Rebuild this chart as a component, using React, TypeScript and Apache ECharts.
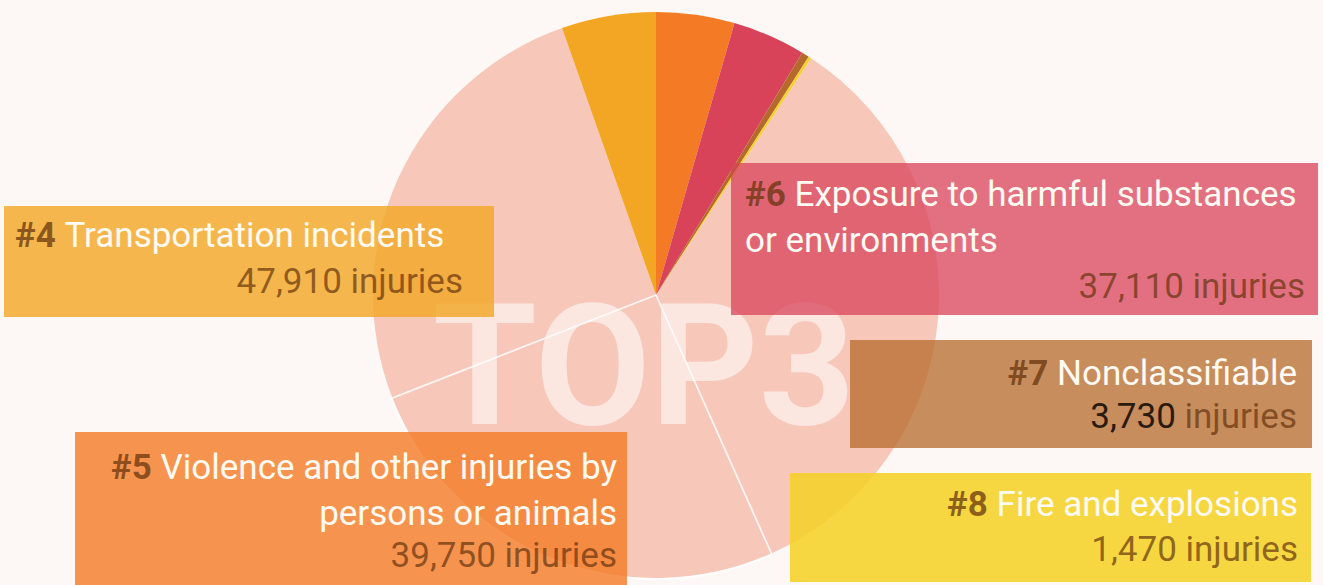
import React, { useEffect, useRef } from "react";
import * as echarts from "echarts";

// ---- data ----
const ranks = [1, 2, 3, 4, 5, 6, 7, 8];
const categories = [
  "Overexertion and bodily reaction",
  "Falls, slips, trips",
  "Contact with objects and equipment",
  "Transportation incidents",
  "Violence and other injuries by\npersons or animals",
  "Exposure to harmful substances\nor environments",
  "Nonclassifiable",
  "Fire and explosions",
];
const injuries = [303000, 229000, 227000, 47910, 39750, 37110, 3730, 1470];
const topLabel = "TOP3";
const unitLabel = "injuries";
const labelledRanks = [4, 5, 6, 7, 8];

// ---- style ----
const BG = "#fdf8f5";
const sliceColors = ["#f7c7ba", "#f7c7ba", "#f7c7ba", "#f2a623", "#f47a25", "#d8435a", "#b5692a", "#f4d02f"];
const boxColors: Record<number, string> = {
  4: "rgba(242,166,35,0.8)",
  5: "rgba(244,122,37,0.8)",
  6: "rgba(216,67,90,0.75)",
  7: "rgba(181,105,42,0.75)",
  8: "rgba(245,210,40,0.88)",
};
type Layout = {
  box: [number, number, number, number];
  titleX: number;
  titleAlign: "left" | "right";
  titleY: number;
  numX: number;
  numY: number;
  numColor?: string;
};
const layouts: Record<number, Layout> = {
  4: { box: [4, 206, 490, 111], titleX: 15, titleAlign: "left", titleY: 235, numX: 463, numY: 281 },
  5: { box: [75, 432, 552, 160], titleX: 617, titleAlign: "right", titleY: 467, numX: 617, numY: 555 },
  6: { box: [731, 163, 587, 152], titleX: 745, titleAlign: "left", titleY: 194, numX: 1305, numY: 286 },
  7: { box: [850, 340, 462, 108], titleX: 1297, titleAlign: "right", titleY: 373, numX: 1297, numY: 416, numColor: "#2b1a0e" },
  8: { box: [790, 473, 521, 109], titleX: 1298, titleAlign: "right", titleY: 504, numX: 1298, numY: 549 },
};
const FONT = "Roboto, 'Noto Sans', sans-serif";
const FS = 35;
const LINE_GAP = 46;

export default function App() {
  const ref = useRef<HTMLDivElement>(null);
  useEffect(() => {
    document.body.style.margin = "0";
    if (!ref.current) return;
    const chart = echarts.init(ref.current, undefined, { renderer: "svg" });
    const total = injuries.reduce((a, b) => a + b, 0);
    const firstFour = injuries.slice(0, 4).reduce((a, b) => a + b, 0);
    const startAngle = 90 + (firstFour / total) * 360;
    const center = [656, 295];

    const elements: any[] = [
      {
        type: "text",
        z: 50,
        x: 644,
        y: 366,
        silent: true,
        style: {
          text: topLabel,
          align: "center",
          verticalAlign: "middle",
          fontSize: 168,
          fontWeight: "bold",
          fontFamily: FONT,
          fill: "rgba(255,255,255,0.55)",
        },
      },
    ];

    labelledRanks.forEach((rank) => {
      const i = ranks.indexOf(rank);
      const L = layouts[rank];
      elements.push({
        type: "rect",
        z: 60,
        shape: { x: L.box[0], y: L.box[1], width: L.box[2], height: L.box[3] },
        style: { fill: boxColors[rank] },
      });
      const lines = categories[i].split("\n");
      lines.forEach((line, li) => {
        const text = li === 0 ? `{r|#${rank}} {t|${line}}` : `{t|${line}}`;
        elements.push({
          type: "text",
          z: 70,
          x: L.titleX,
          y: L.titleY + li * LINE_GAP,
          style: {
            text,
            align: L.titleAlign,
            verticalAlign: "middle",
            fontSize: FS,
            fontFamily: FONT,
            rich: {
              r: { fontSize: FS, fontFamily: FONT, fontWeight: "bold", fill: "rgba(100,50,10,0.72)" },
              t: { fontSize: FS, fontFamily: FONT, fill: "#fffaf2" },
            },
          },
        });
      });
      elements.push({
        type: "text",
        z: 70,
        x: L.numX,
        y: L.numY,
        style: {
          text: `{v|${injuries[i].toLocaleString("en-US")}} {u|${unitLabel}}`,
          align: "right",
          verticalAlign: "middle",
          fontSize: FS,
          fontFamily: FONT,
          rich: {
            v: { fontSize: FS, fontFamily: FONT, fill: L.numColor || "rgba(100,50,10,0.7)" },
            u: { fontSize: FS, fontFamily: FONT, fill: "rgba(100,50,10,0.7)" },
          },
        },
      });
    });

    chart.setOption({
      animation: false,
      backgroundColor: BG,
      series: [
        {
          type: "pie",
          center,
          radius: 283,
          startAngle,
          clockwise: true,
          silent: true,
          label: { show: false },
          labelLine: { show: false },
          emphasis: { disabled: true },
          data: categories.map((name, i) => ({
            name,
            value: injuries[i],
            itemStyle: { color: sliceColors[i], borderWidth: 0 },
          })),
        },
        {
          type: "pie",
          center,
          radius: 284,
          startAngle,
          clockwise: true,
          silent: true,
          label: { show: false },
          labelLine: { show: false },
          emphasis: { disabled: true },
          data: categories.map((name, i) => ({
            name,
            value: injuries[i],
            itemStyle:
              i === 1
                ? { color: "rgba(0,0,0,0)", borderColor: "rgba(255,255,255,0.8)", borderWidth: 1.8 }
                : { color: "rgba(0,0,0,0)", borderWidth: 0 },
          })),
        },
      ],
      graphic: { elements },
    });
    return () => chart.dispose();
  }, []);
  return <div ref={ref} style={{ width: 1323, height: 585, background: BG }} />;
}
